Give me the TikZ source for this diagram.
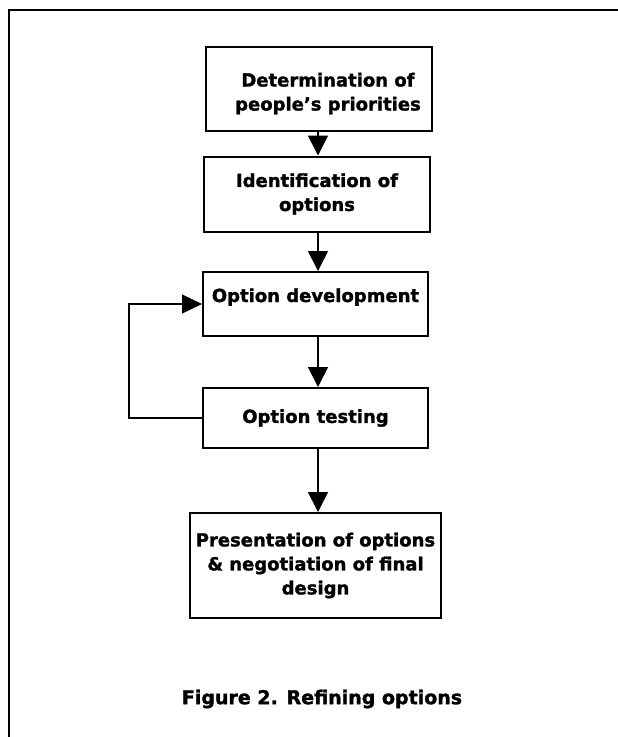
\documentclass[tikz,border=0pt]{standalone}
\usepackage{fontspec}
\setmainfont{DejaVu Sans}[BoldFeatures={FakeBold=1.5}]
\usetikzlibrary{arrows.meta}
\tikzset{
  stepbox/.style={draw, line width=2pt, rectangle, align=center, inner sep=0pt,
    font=\fontsize{18}{24}\selectfont\bfseries},
  arr/.style={line width=1.6pt, -{Triangle[length=20pt,width=20pt]}},
  fbarr/.style={line width=1.2pt, -{Triangle[length=20pt,width=19pt]}},
  frameline/.style={line width=2pt},
  captext/.style={font=\fontsize{19}{24}\selectfont\bfseries}
}
\begin{document}
\begin{tikzpicture}[x=1pt,y=-1pt]
\useasboundingbox (0,0) rectangle (618,737);
\draw[frameline] (618,10) -- (9,10) -- (9,737);

\node[stepbox, minimum width=226pt, minimum height=84pt, text height=47pt, text depth=4pt] (b1) at (319,89)
  {\hspace*{18pt}Determination of\\\hspace*{18pt}people’s priorities};
\node[stepbox, minimum width=226pt, minimum height=75pt] (b2) at (317,194)
  {Identification of\\options};
\node[stepbox, minimum width=225pt, minimum height=64pt, text height=14pt, text depth=18pt] (b3) at (315.5,304)
  {Option development};
\node[stepbox, minimum width=225pt, minimum height=60pt] (b4) at (315.5,418)
  {Option testing};
\node[stepbox, minimum width=251pt, minimum height=105pt] (b5) at (315.5,565.5)
  {Presentation of options\\\& negotiation of final\\design};

\coordinate (ax) at (318,0);
\coordinate (fb) at (129,0);

\draw[arr] (b1.south -| ax) -- (b2.north -| ax);
\draw[arr] (b2.south -| ax) -- (b3.north -| ax);
\draw[arr] (b3.south -| ax) -- (b4.north -| ax);
\draw[arr] (b4.south -| ax) -- (b5.north -| ax);
\draw[fbarr] (b4.west) -- (b4.west -| fb) |- (b3.west);

\node[captext] (caption) at (322,699) {Figure 2. Refining options};
\end{tikzpicture}
\end{document}
